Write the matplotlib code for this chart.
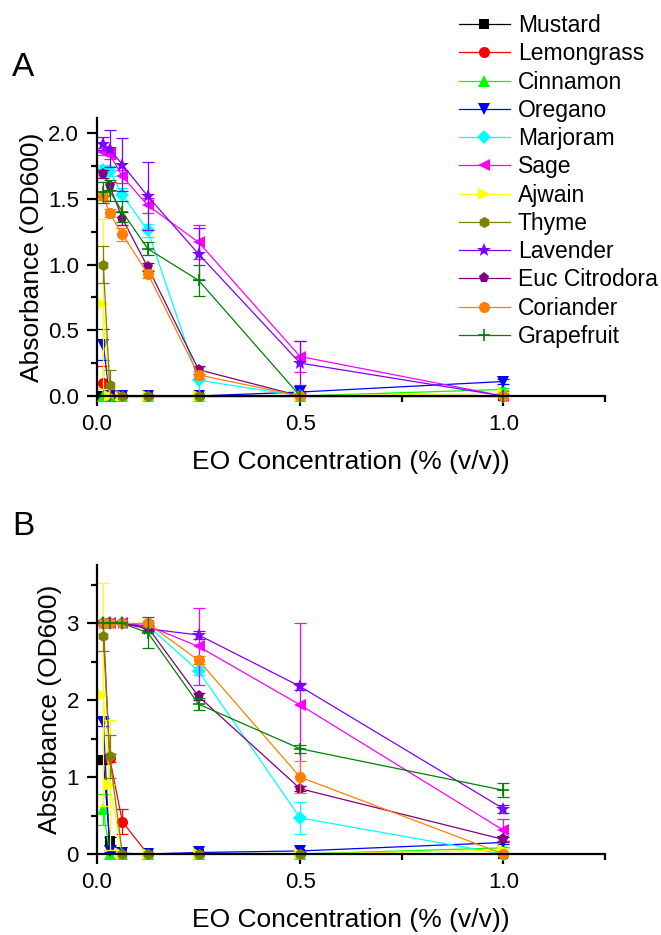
import matplotlib
matplotlib.use('Agg')
import matplotlib.pyplot as plt
from matplotlib.ticker import MultipleLocator, FixedLocator

plt.rcParams['font.family'] = ['Liberation Sans', 'DejaVu Sans']

# EO concentration (% v/v), two-fold dilutions
conc = [0.015625, 0.03125, 0.0625, 0.125, 0.25, 0.5, 1.0]

names = ['Mustard', 'Lemongrass', 'Cinnamon', 'Oregano', 'Marjoram', 'Sage',
         'Ajwain', 'Thyme', 'Lavender', 'Euc Citrodora', 'Coriander', 'Grapefruit']

# Panel A values
mustard_a = [0, 0, 0, 0, 0, 0, 0]
lemongrass_a = [0.10, 0, 0, 0, 0, 0, 0]
cinnamon_a = [0, 0, 0, 0, 0, 0, 0.05]
oregano_a = [0.39, 0, 0, 0, 0, 0.03, 0.11]
marjoram_a = [1.72, 1.71, 1.53, 1.26, 0.12, 0, 0]
sage_a = [1.86, 1.84, 1.67, 1.45, 1.17, 0.30, 0]
ajwain_a = [0.70, 0, 0, 0, 0, 0, 0.02]
thyme_a = [1.00, 0.08, 0, 0, 0, 0, 0]
lavender_a = [1.92, 1.88, 1.76, 1.52, 1.08, 0.25, 0]
euc_a = [1.69, 1.60, 1.35, 0.98, 0.20, 0, 0]
coriander_a = [1.52, 1.39, 1.23, 0.93, 0.16, 0, 0]
grapefruit_a = [1.55, 1.56, 1.40, 1.12, 0.88, 0, 0]

# Panel A error bars
mustard_a_err = [0, 0, 0, 0, 0, 0, 0]
lemongrass_a_err = [0.13, 0, 0, 0, 0, 0, 0]
cinnamon_a_err = [0, 0, 0, 0, 0, 0, 0.01]
oregano_a_err = [0.12, 0, 0, 0, 0, 0.01, 0.02]
marjoram_a_err = [0.04, 0.04, 0.05, 0.05, 0.10, 0, 0]
sage_a_err = [0.03, 0.04, 0.05, 0.06, 0.13, 0.12, 0]
ajwain_a_err = [0.65, 0, 0, 0, 0, 0, 0.01]
thyme_a_err = [0.14, 0.12, 0, 0, 0, 0, 0]
lavender_a_err = [0.05, 0.14, 0.20, 0.26, 0.20, 0.17, 0]
euc_a_err = [0.03, 0.03, 0.05, 0.03, 0.03, 0, 0]
coriander_a_err = [0.03, 0.03, 0.05, 0.03, 0.03, 0, 0]
grapefruit_a_err = [0.08, 0.08, 0.08, 0.05, 0.12, 0, 0]

# Panel B values
mustard_b = [1.22, 0.17, 0, 0, 0, 0, 0]
lemongrass_b = [3.0, 1.25, 0.42, 0, 0, 0, 0]
cinnamon_b = [0.58, 0, 0, 0, 0, 0, 0.08]
oregano_b = [1.72, 0.04, 0.01, 0, 0.02, 0.04, 0.15]
marjoram_b = [3.0, 3.0, 3.0, 2.97, 2.38, 0.47, 0]
sage_b = [3.0, 3.0, 3.0, 2.97, 2.70, 1.94, 0.31]
ajwain_b = [2.07, 0.90, 0, 0, 0, 0, 0.05]
thyme_b = [2.84, 1.27, 0, 0, 0, 0, 0]
lavender_b = [3.0, 3.0, 3.0, 2.93, 2.85, 2.18, 0.59]
euc_b = [3.0, 3.0, 3.0, 2.95, 2.05, 0.85, 0.19]
coriander_b = [3.0, 3.0, 3.0, 3.0, 2.52, 1.00, 0]
grapefruit_b = [3.0, 3.0, 3.0, 2.88, 1.95, 1.37, 0.83]

# Panel B error bars
mustard_b_err = [0.05, 0.05, 0, 0, 0, 0, 0]
lemongrass_b_err = [0, 0.05, 0.16, 0, 0, 0, 0]
cinnamon_b_err = [0.20, 0, 0, 0, 0, 0, 0.01]
oregano_b_err = [0.05, 0.01, 0, 0, 0.01, 0.01, 0.02]
marjoram_b_err = [0, 0, 0, 0.03, 0.05, 0.21, 0]
sage_b_err = [0, 0, 0, 0.03, 0.50, 1.06, 0.14]
ajwain_b_err = [1.45, 0.85, 0, 0, 0, 0, 0.01]
thyme_b_err = [0.20, 0.28, 0, 0, 0, 0, 0]
lavender_b_err = [0, 0, 0, 0.03, 0.05, 0.05, 0.05]
euc_b_err = [0, 0, 0, 0.03, 0.05, 0.03, 0.03]
coriander_b_err = [0, 0, 0, 0.03, 0.05, 0.21, 0]
grapefruit_b_err = [0, 0, 0, 0.20, 0.08, 0.05, 0.09]

colors = ['#000000', '#FF0000', '#00FF00', '#0000FF', '#00FFFF', '#FF00FF',
          '#FFFF00', '#808000', '#8000FF', '#800080', '#FF8000', '#008000']
markers = ['s', 'o', '^', 'v', 'D', '<', '>', 'h', '*', 'p', 'o', '+']
msizes = [7, 8, 8, 8, 7, 8, 8, 8, 10, 8, 8, 8]

panel_a = [mustard_a, lemongrass_a, cinnamon_a, oregano_a, marjoram_a, sage_a,
           ajwain_a, thyme_a, lavender_a, euc_a, coriander_a, grapefruit_a]
panel_a_err = [mustard_a_err, lemongrass_a_err, cinnamon_a_err, oregano_a_err,
               marjoram_a_err, sage_a_err, ajwain_a_err, thyme_a_err,
               lavender_a_err, euc_a_err, coriander_a_err, grapefruit_a_err]
panel_b = [mustard_b, lemongrass_b, cinnamon_b, oregano_b, marjoram_b, sage_b,
           ajwain_b, thyme_b, lavender_b, euc_b, coriander_b, grapefruit_b]
panel_b_err = [mustard_b_err, lemongrass_b_err, cinnamon_b_err, oregano_b_err,
               marjoram_b_err, sage_b_err, ajwain_b_err, thyme_b_err,
               lavender_b_err, euc_b_err, coriander_b_err, grapefruit_b_err]

fig = plt.figure(figsize=(6.61, 9.35), dpi=100)
fig.patch.set_facecolor('white')

axA = fig.add_axes([0.1467, 0.5765, 0.7685, 0.2973])
axB = fig.add_axes([0.1467, 0.0866, 0.7685, 0.3091])


def draw_panel(ax, data, errs, ymax, ymajor, yminor, ylabels_fmt):
    handles = []
    for vals, err, c, m, ms, name in zip(data, errs, colors, markers, msizes, names):
        # error bars only where there is a spread
        idx = [i for i, e in enumerate(err) if e > 0]
        if idx:
            ax.errorbar([conc[i] for i in idx], [vals[i] for i in idx],
                        yerr=[err[i] for i in idx], fmt='none', ecolor=c,
                        elinewidth=0.9, capsize=4, capthick=0.9, clip_on=False)
        mew = 1.2 if m == '+' else 0
        line, = ax.plot(conc, vals, color=c, marker=m, markersize=ms,
                        markeredgewidth=mew, linewidth=0.9, label=name,
                        clip_on=False)
        handles.append(line)
    ax.set_xlim(0, 1.25)
    ax.set_ylim(0, ymax)
    ax.spines['top'].set_visible(False)
    ax.spines['right'].set_visible(False)
    ax.spines['left'].set_linewidth(1.6)
    ax.spines['bottom'].set_linewidth(1.6)
    ax.xaxis.set_major_locator(FixedLocator([0.0, 0.5, 1.0]))
    ax.xaxis.set_minor_locator(FixedLocator([0.25, 0.75, 1.25]))
    ax.set_xticklabels(['0.0', '0.5', '1.0'])
    ax.yaxis.set_major_locator(MultipleLocator(ymajor))
    ax.yaxis.set_minor_locator(MultipleLocator(yminor))
    ax.yaxis.set_major_formatter(ylabels_fmt)
    ax.tick_params(which='major', direction='out', length=7, width=1.6,
                   labelsize=16, pad=6)
    ax.tick_params(which='minor', direction='out', length=4, width=1.6)
    ax.set_xlabel('EO Concentration (% (v/v))', fontsize=19, labelpad=11)
    ax.set_ylabel('Absorbance (OD600)', fontsize=19, labelpad=3)
    return handles


handles = draw_panel(axA, panel_a, panel_a_err, 2.115, 0.5, 0.25, '{x:.1f}')
draw_panel(axB, panel_b, panel_b_err, 3.76, 1, 0.5, '{x:.0f}')

fig.text(0.018, 0.919, 'A', fontsize=24)
fig.text(0.018, 0.428, 'B', fontsize=24)

fig.legend(handles=handles, labels=names, loc='upper left',
           bbox_to_anchor=(0.694, 0.985), frameon=False, fontsize=16.5,
           handlelength=2.23, handletextpad=0.35, labelspacing=0.23,
           borderpad=0, borderaxespad=0)

fig.savefig('out.png', dpi=100)
